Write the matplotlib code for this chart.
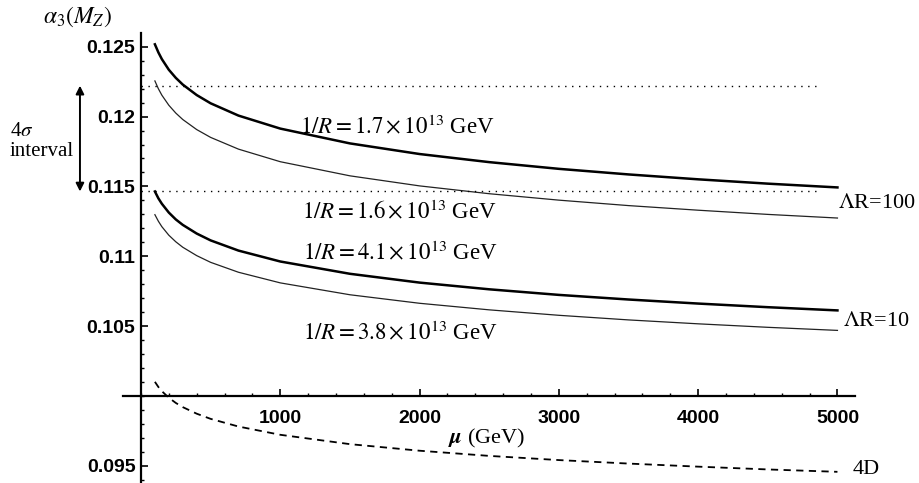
import numpy as np
import matplotlib
matplotlib.use("Agg")
import matplotlib.pyplot as plt
from matplotlib.ticker import MultipleLocator

plt.rcParams['mathtext.fontset'] = 'stix'
plt.rcParams['font.family'] = 'Liberation Serif'

# renormalisation scale mu (GeV)
mu = [100, 125, 150, 200, 250, 300, 400, 500, 700, 1000, 1500, 2000, 2500, 3000, 3500, 4000, 4500, 5000]

# alpha_3(M_Z)
lam100_17 = [0.12517, 0.12459, 0.12411, 0.12335, 0.12277, 0.12229, 0.12154, 0.12095, 0.12007,
             0.11914, 0.11808, 0.11732, 0.11674, 0.11626, 0.11586, 0.11551, 0.11520, 0.11493]
lam100_16 = [0.12255, 0.12199, 0.12153, 0.12081, 0.12025, 0.11979, 0.11907, 0.11851, 0.11767,
             0.11677, 0.11576, 0.11504, 0.11448, 0.11402, 0.11363, 0.11330, 0.11300, 0.11274]
lam10_41 = [0.11464, 0.11415, 0.11376, 0.11313, 0.11264, 0.11225, 0.11163, 0.11114, 0.11041,
            0.10963, 0.10875, 0.10812, 0.10764, 0.10724, 0.10691, 0.10662, 0.10636, 0.10613]
lam10_38 = [0.11298, 0.11251, 0.11212, 0.11151, 0.11104, 0.11065, 0.11005, 0.10957, 0.10886,
            0.10810, 0.10725, 0.10664, 0.10617, 0.10578, 0.10545, 0.10517, 0.10492, 0.10470]
fourD = [0.10102, 0.10065, 0.10035, 0.09988, 0.09951, 0.09921, 0.09874, 0.09837, 0.09782,
         0.09723, 0.09656, 0.09609, 0.09572, 0.09542, 0.09517, 0.09495, 0.09475, 0.09458]

# 4 sigma band
band_lo, band_hi = 0.11464, 0.12221
band_x = [0, 4880]

fig = plt.figure(figsize=(9.19, 4.83), dpi=100)
ax = fig.add_axes([123/919, 0.0, 732/919, 450/483])

ax.plot(mu, lam100_17, color='black', lw=1.8)
ax.plot(mu, lam100_16, color='#222222', lw=0.9)
ax.plot(mu, lam10_41, color='black', lw=1.8)
ax.plot(mu, lam10_38, color='#222222', lw=0.9)
ax.plot(mu, fourD, color='black', lw=1.3, linestyle=(0, (4, 3)))
ax.plot(band_x, [band_hi, band_hi], color='black', lw=1.0, linestyle=(0, (1, 4)))
ax.plot(band_x, [band_lo, band_lo], color='black', lw=1.0, linestyle=(0, (1, 4)))

ax.set_xlim(-129, 5126)
ax.set_ylim(0.09378, 0.12598)

for s in ['top', 'right']:
    ax.spines[s].set_visible(False)
ax.spines['left'].set_position(('data', 0))
ax.spines['bottom'].set_position(('data', 0.1))
ax.spines['left'].set_linewidth(1.6)
ax.spines['bottom'].set_linewidth(1.6)

ax.set_xticks([1000, 2000, 3000, 4000, 5000])
ax.xaxis.set_minor_locator(MultipleLocator(200))
ax.set_yticks([0.095, 0.105, 0.11, 0.115, 0.12, 0.125])
ax.set_yticklabels(['0.095', '0.105', '0.11', '0.115', '0.12', '0.125'])
ax.yaxis.set_minor_locator(MultipleLocator(0.001))
ax.tick_params(axis='both', which='major', direction='in', length=5, width=1.2)
ax.tick_params(axis='both', which='minor', direction='in', length=2.5, width=1.0)
ax.tick_params(axis='x', which='major', pad=10)
ax.tick_params(axis='y', which='major', pad=4)
for lab in ax.get_xticklabels() + ax.get_yticklabels():
    lab.set_family('Liberation Sans')
    lab.set_fontweight('bold')
    lab.set_fontsize(14)

fs = 16.5
ax.text(1838, 0.11925, r'$1/R = 1.7\times10^{13}$ GeV', ha='center', va='center', fontsize=fs)
ax.text(1852, 0.11319, r'$1/R = 1.6\times10^{13}$ GeV', ha='center', va='center', fontsize=fs)
ax.text(1859, 0.11024, r'$1/R = 4.1\times10^{13}$ GeV', ha='center', va='center', fontsize=fs)
ax.text(1859, 0.10452, r'$1/R = 3.8\times10^{13}$ GeV', ha='center', va='center', fontsize=fs)
ax.text(5004, 0.11375, r'$\Lambda$R=100', ha='left', va='center', fontsize=16, clip_on=False)
ax.text(5040, 0.10533, r'$\Lambda$R=10', ha='left', va='center', fontsize=16, clip_on=False)
ax.text(5111, 0.09472, '4D', ha='left', va='center', fontsize=16, clip_on=False)
ax.text(2477, 0.09700, r'$\boldsymbol{\mu}$ (GeV)', ha='center', va='center', fontsize=16)
ax.text(-459, 0.12712, r'$\alpha_3(M_Z)$', ha='center', va='center', fontsize=17, clip_on=False)
ax.text(-940, 0.11890, r'4$\sigma$', ha='left', va='center', fontsize=15, clip_on=False)
ax.text(-940, 0.11747, 'interval', ha='left', va='center', fontsize=15, clip_on=False)
ax.annotate('', xy=(-438, band_lo), xytext=(-438, band_hi), annotation_clip=False,
            arrowprops=dict(arrowstyle='<|-|>', color='black', lw=1.4,
                            mutation_scale=12, shrinkA=0, shrinkB=0))

fig.savefig('out.png', dpi=100)
